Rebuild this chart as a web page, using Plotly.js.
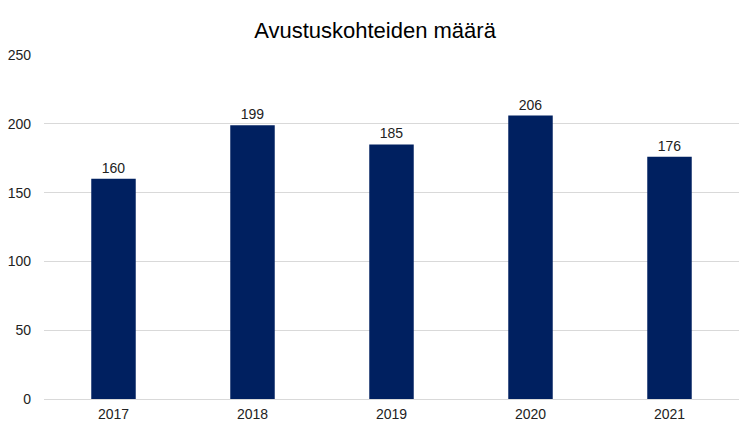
<!DOCTYPE html>
<html>
<head>
<meta charset="utf-8">
<script src="https://cdn.plot.ly/plotly-3.0.1.min.js"></script>
<style>html,body{margin:0;padding:0;background:#fff;}#chart{width:750px;height:436px;}</style>
</head>
<body>
<div id="chart"></div>
<script>
const years = ["2017", "2018", "2019", "2020", "2021"];
const counts = [160, 199, 185, 206, 176];
const yTicks = [0, 50, 100, 150, 200, 250];

const trace = {
  type: "bar",
  x: years,
  y: counts,
  text: counts.map(String),
  textposition: "outside",
  cliponaxis: false,
  textfont: {family: "Liberation Sans, Arial, sans-serif", size: 14, color: "#222"},
  marker: {color: "#002060"},
  hoverinfo: "none"
};

const layout = {
  width: 750,
  height: 436,
  margin: {l: 44, r: 11, t: 55, b: 37},
  paper_bgcolor: "#fff",
  plot_bgcolor: "#fff",
  bargap: 0.68,
  showlegend: false,
  title: {
    text: "Avustuskohteiden määrä",
    font: {family: "Liberation Sans, Arial, sans-serif", size: 22, color: "#000"},
    x: 0.5, xanchor: "center", y: 0.93, yanchor: "middle"
  },
  xaxis: {
    type: "category",
    showgrid: false,
    showline: false,
    ticks: "",
    ticklabelstandoff: 5,
    tickfont: {family: "Liberation Sans, Arial, sans-serif", size: 14, color: "#222"},
    fixedrange: true
  },
  yaxis: {
    range: [0, 250],
    tickvals: yTicks,
    ticktext: yTicks.map(String),
    showgrid: true,
    gridcolor: "#d9d9d9",
    gridwidth: 1,
    zeroline: true,
    zerolinecolor: "#d9d9d9",
    zerolinewidth: 1,
    showline: false,
    ticks: "",
    ticklabelstandoff: 12,
    tickfont: {family: "Liberation Sans, Arial, sans-serif", size: 14, color: "#222"},
    fixedrange: true
  }
};

Plotly.newPlot("chart", [trace], layout, {displayModeBar: false, staticPlot: true});
</script>
</body>
</html>
